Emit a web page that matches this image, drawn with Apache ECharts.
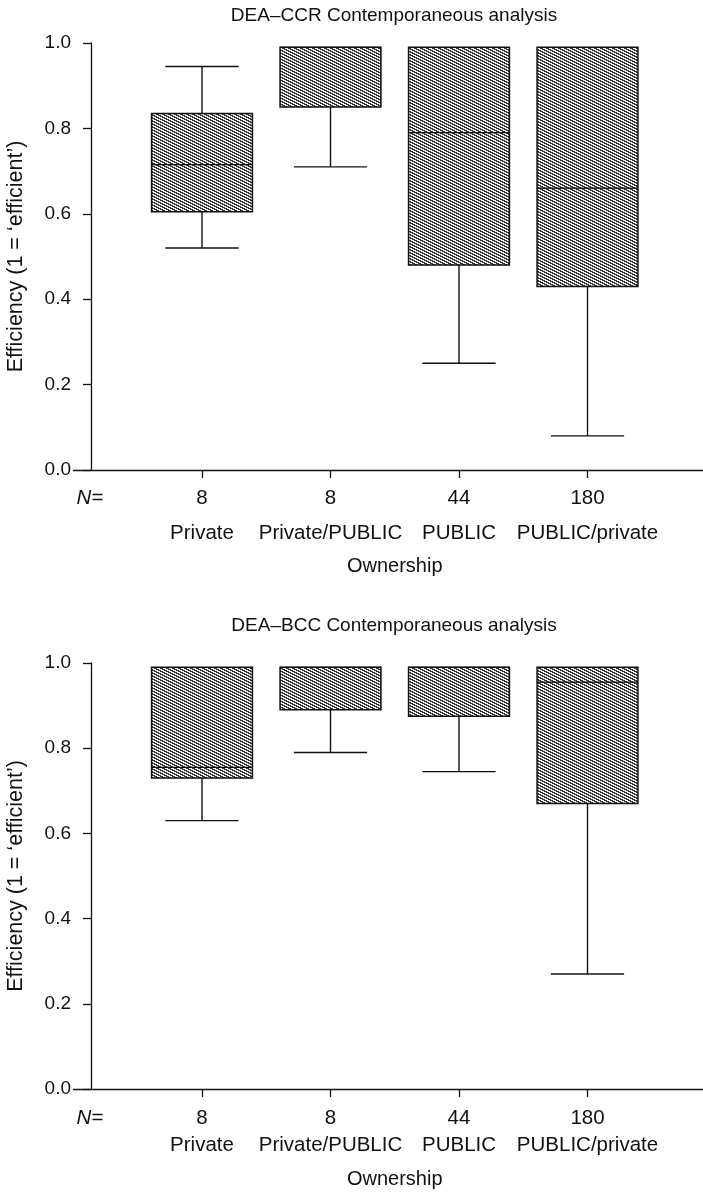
<!DOCTYPE html>
<html>
<head>
<meta charset="utf-8">
<script src="https://cdn.jsdelivr.net/npm/echarts@6/dist/echarts.min.js"></script>
<style>
html,body{margin:0;padding:0;background:#fff;}
#chart{width:703px;height:1192px;}
</style>
</head>
<body>
<div id="chart"></div>
<script>
// ---- data ----
const categories = ['Private', 'Private/PUBLIC', 'PUBLIC', 'PUBLIC/private'];
const counts = [8, 8, 44, 180];
const titles = ['DEA\u2013CCR Contemporaneous analysis', 'DEA\u2013BCC Contemporaneous analysis'];
const yTicks = [0.0, 0.2, 0.4, 0.6, 0.8, 1.0];

// DEA-CCR
const ccrLow    = [0.52, 0.71, 0.25, 0.08];
const ccrQ1     = [0.605, 0.85, 0.48, 0.43];
const ccrMedian = [0.715, 0.99, 0.79, 0.66];
const ccrQ3     = [0.835, 0.99, 0.99, 0.99];
const ccrHigh   = [0.945, 0.99, 0.99, 0.99];

// DEA-BCC
const bccLow    = [0.63, 0.79, 0.745, 0.27];
const bccQ1     = [0.73, 0.89, 0.875, 0.67];
const bccMedian = [0.755, 0.99, 0.99, 0.955];
const bccQ3     = [0.99, 0.99, 0.99, 0.99];
const bccHigh   = [0.99, 0.99, 0.99, 0.99];

// ---- pattern (hatched halftone) ----
function makePattern() {
  const c = document.createElement('canvas');
  c.width = 6; c.height = 3;
  const ctx = c.getContext('2d');
  ctx.fillStyle = '#f0f0f0';
  ctx.fillRect(0, 0, 6, 3);
  ctx.fillStyle = '#333333';
  for (let y = 0; y < 3; y++) {
    for (let k = 0; k < 3; k++) {
      ctx.fillRect((2 * y + k) % 6, y, 1, 1);
    }
  }
  return { image: c, repeat: 'repeat' };
}
const pattern = makePattern();

const paddedCats = [''].concat(categories, ['']);
const font = 'Liberation Sans, Arial, sans-serif';
const fs = 20.5;

function buildData(lo, q1, med, q3, hi) {
  return categories.map((c, i) => [i + 1, lo[i], q1[i], med[i], q3[i], hi[i]]);
}

function renderBox(params, api) {
  const x = api.value(0);
  const pLo = api.coord([x, api.value(1)]);
  const pQ1 = api.coord([x, api.value(2)]);
  const pMed = api.coord([x, api.value(3)]);
  const pQ3 = api.coord([x, api.value(4)]);
  const pHi = api.coord([x, api.value(5)]);
  const band = api.size([1, 0])[0];
  const bw = band * 0.785;
  const cw = band * 0.57;
  const cx = pQ1[0];
  const lineStyle = { stroke: '#111', lineWidth: 1.4 };
  const children = [];
  if (pLo[1] - pQ1[1] > 0.5) {
    children.push({ type: 'line', shape: { x1: cx, y1: pQ1[1], x2: cx, y2: pLo[1] }, style: lineStyle });
    children.push({ type: 'line', shape: { x1: cx - cw / 2, y1: pLo[1], x2: cx + cw / 2, y2: pLo[1] }, style: lineStyle });
  }
  if (pQ3[1] - pHi[1] > 0.5) {
    children.push({ type: 'line', shape: { x1: cx, y1: pQ3[1], x2: cx, y2: pHi[1] }, style: lineStyle });
    children.push({ type: 'line', shape: { x1: cx - cw / 2, y1: pHi[1], x2: cx + cw / 2, y2: pHi[1] }, style: lineStyle });
  }
  children.push({
    type: 'rect',
    shape: { x: cx - bw / 2, y: pQ3[1], width: bw, height: pQ1[1] - pQ3[1] },
    style: { fill: pattern, stroke: '#111', lineWidth: 1.5 }
  });
  children.push({ type: 'line', shape: { x1: cx - bw / 2, y1: pMed[1], x2: cx + bw / 2, y2: pMed[1] }, style: { stroke: '#111', lineWidth: 1.2 } });
  return { type: 'group', children: children };
}

const grids = [
  { left: 73.5, width: 642.5, top: 43, height: 427, containLabel: false, outerBoundsMode: 'none' },
  { left: 73.5, width: 642.5, top: 663, height: 426, containLabel: false, outerBoundsMode: 'none' }
];
const labelRows = [
  { margin: 10.5, l1: 35, l2: 35, nameGap: 86.5 },
  { margin: 15.5, l1: 27, l2: 27, nameGap: 80.5 }
];

const xAxes = grids.map((g, gi) => ({
  gridIndex: gi,
  type: 'category',
  data: paddedCats,
  boundaryGap: false,
  axisLine: { lineStyle: { color: '#111', width: 1.3 } },
  axisTick: { length: 8, interval: (i) => i >= 1 && i <= 4, lineStyle: { color: '#111', width: 1.3 } },
  axisLabel: {
    interval: 0,
    margin: labelRows[gi].margin,
    color: '#111',
    fontFamily: font,
    fontSize: fs,
    formatter: function (value, index) {
      if (index === 0) return '{pad|}{ni|N}{n|=}\n{c| }';
      if (index > categories.length) return '';
      return '{n|' + counts[index - 1] + '}\n{c|' + value + '}';
    },
    rich: {
      pad: { width: 33, fontSize: fs, lineHeight: labelRows[gi].l1 },
      ni: { fontSize: fs, fontStyle: 'italic', fontFamily: font, color: '#111', lineHeight: labelRows[gi].l1 },
      n: { fontSize: fs, fontFamily: font, color: '#111', lineHeight: labelRows[gi].l1 },
      c: { fontSize: fs, fontFamily: font, color: '#111', lineHeight: labelRows[gi].l2 }
    }
  },
  splitLine: { show: false },
  name: 'Ownership',
  nameLocation: 'middle',
  nameGap: labelRows[gi].nameGap,
  nameTextStyle: { color: '#111', fontFamily: font, fontSize: 20 }
}));

const yAxes = grids.map((g, gi) => ({
  gridIndex: gi,
  type: 'value',
  min: yTicks[0],
  max: yTicks[yTicks.length - 1],
  interval: 0.2,
  offset: -17.5,
  axisLine: { show: true, lineStyle: { color: '#111', width: 1.3 } },
  axisTick: { show: true, length: 8, lineStyle: { color: '#111', width: 1.3 } },
  axisLabel: { margin: 20, color: '#111', fontFamily: font, fontSize: 19, formatter: (v) => v.toFixed(1) },
  splitLine: { show: false },
  name: 'Efficiency (1 = \u2018efficient\u2019)',
  nameLocation: 'middle',
  nameGap: 63.5,
  nameTextStyle: { color: '#111', fontFamily: font, fontSize: 21.5 }
}));

const chart = echarts.init(document.getElementById('chart'), null, { renderer: 'canvas' });
chart.setOption({
  backgroundColor: '#fff',
  animation: false,
  title: [
    { text: titles[0], left: 389, top: 1, textAlign: 'center', textStyle: { color: '#111', fontFamily: font, fontSize: 19, fontWeight: 'normal' } },
    { text: titles[1], left: 389, top: 611, textAlign: 'center', textStyle: { color: '#111', fontFamily: font, fontSize: 19, fontWeight: 'normal' } }
  ],
  grid: grids,
  xAxis: xAxes,
  yAxis: yAxes,
  series: [
    { type: 'custom', name: 'DEA-CCR', xAxisIndex: 0, yAxisIndex: 0, renderItem: renderBox,
      encode: { x: 0, y: [1, 2, 3, 4, 5] },
      data: buildData(ccrLow, ccrQ1, ccrMedian, ccrQ3, ccrHigh) },
    { type: 'custom', name: 'DEA-BCC', xAxisIndex: 1, yAxisIndex: 1, renderItem: renderBox,
      encode: { x: 0, y: [1, 2, 3, 4, 5] },
      data: buildData(bccLow, bccQ1, bccMedian, bccQ3, bccHigh) }
  ]
});
</script>
</body>
</html>
